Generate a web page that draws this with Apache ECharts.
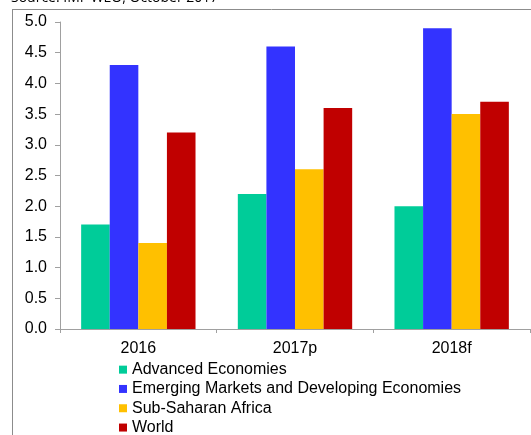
<!DOCTYPE html>
<html>
<head>
<meta charset="utf-8">
<script src="https://cdn.jsdelivr.net/npm/echarts@6/dist/echarts.min.js"></script>
<style>
  html, body { margin: 0; padding: 0; background: #fff; }
  #chart { width: 531px; height: 435px; }
</style>
</head>
<body>
<div id="chart"></div>
<script>
// Real GDP growth, %
const categories = ['2016', '2017p', '2018f'];
const seriesNames = [
  'Advanced Economies',
  'Emerging Markets and Developing Economies',
  'Sub-Saharan Africa',
  'World'
];
const advanced = [1.7, 2.2, 2.0];
const emerging = [4.3, 4.6, 4.9];
const subSaharan = [1.4, 2.6, 3.5];
const world = [3.2, 3.6, 3.7];
const colors = ['#00CC99', '#3333FF', '#FFC000', '#C00000'];
const sourceNote = 'Source: IMF WEO, October 2017';

const values = [advanced, emerging, subSaharan, world];
const font = 'Liberation Sans, Arial, sans-serif';

const chart = echarts.init(document.getElementById('chart'));
chart.setOption({
  animation: false,
  backgroundColor: '#ffffff',
  grid: { left: 60, top: 22, right: 1, bottom: 106, containLabel: false },
  xAxis: {
    type: 'category',
    data: categories,
    axisLine: { lineStyle: { color: '#a0a0a0', width: 1 } },
    axisTick: { show: true, length: 4, lineStyle: { color: '#a0a0a0' } },
    axisLabel: { color: '#000', fontFamily: font, fontSize: 16, margin: 12 }
  },
  yAxis: {
    type: 'value',
    min: 0, max: 5, interval: 0.5,
    axisLine: { show: true, lineStyle: { color: '#a0a0a0', width: 1 } },
    axisTick: { show: true, length: 5, lineStyle: { color: '#a0a0a0' } },
    splitLine: { show: false },
    axisLabel: {
      color: '#000', fontFamily: font, fontSize: 16, margin: 13,
      formatter: v => v.toFixed(1)
    }
  },
  legend: {
    orient: 'vertical',
    left: 119, top: 360, height: 90,
    padding: 0,
    itemWidth: 8, itemHeight: 8, itemGap: 0,
    icon: 'rect',
    textStyle: { color: '#000', fontFamily: font, fontSize: 16, lineHeight: 19.3 },
    data: seriesNames
  },
  series: seriesNames.map((name, i) => ({
    name,
    type: 'bar',
    data: values[i],
    barGap: '0%',
    barCategoryGap: '27%',
    itemStyle: { color: colors[i] }
  })),
  graphic: [
    { type: 'line', shape: { x1: 12.5, y1: 9, x2: 12.5, y2: 435 }, style: { stroke: '#8c8c8c', lineWidth: 1 } },
    { type: 'line', shape: { x1: 12, y1: 9.5, x2: 531, y2: 9.5 }, style: { stroke: '#8c8c8c', lineWidth: 1 } },
    { type: 'text', left: 11, top: -9,
      style: { text: sourceNote, fill: '#000', font: '14px "Open Sans", sans-serif' } }
  ]
});
</script>
</body>
</html>
